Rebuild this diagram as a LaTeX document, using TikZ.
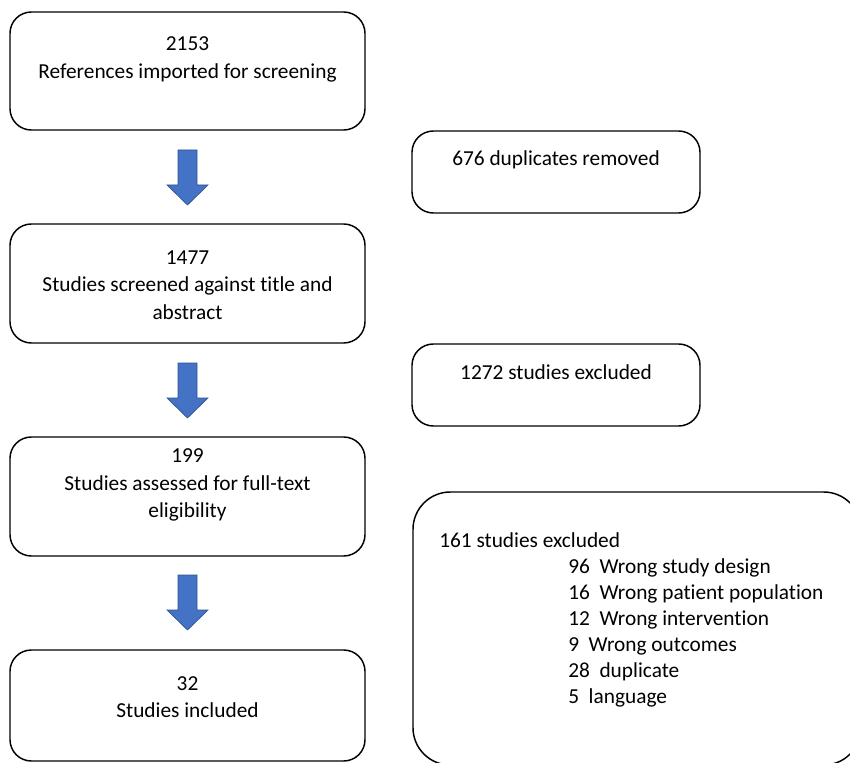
\documentclass[tikz,border=0pt]{standalone}
\usepackage{fontspec}
\setmainfont[Ligatures=NoCommon]{Carlito}
\usetikzlibrary{fit}
\definecolor{arrowblue}{HTML}{4472C4}
\definecolor{arrowedge}{HTML}{2F528F}
\tikzset{
  box/.style={draw=black, line width=1.1pt, rounded corners=16pt, inner sep=0pt},
  bigbox/.style={draw=black, line width=1.1pt, rounded corners=28pt, inner sep=0pt},
  label/.style={font=\fontsize{16pt}{20.5pt}\selectfont, align=center, inner sep=0pt},
  itemtext/.style={font=\fontsize{16pt}{19.6pt}\selectfont, align=left, inner sep=0pt, anchor=west},
  blockarrow/.style={fill=arrowblue, draw=arrowedge, line width=0.5pt}
}
\newcommand{\downarrowat}[2]{%
  \draw[blockarrow] (#1-9.5,#2) -- (#1+9.5,#2) -- (#1+9.5,#2+35) -- (#1+20.5,#2+35)
    -- (#1,#2+55) -- (#1-20.5,#2+35) -- (#1-9.5,#2+35) -- cycle;}
\begin{document}
\begin{tikzpicture}[x=0.75pt, y=-0.75pt]
\useasboundingbox (0,0) rectangle (850,763);
\clip (0,0) rectangle (850,763);
% left column boxes
\node[box, fit={(10,12) (365,130)}] (b1) {};
\node[box, fit={(10,224) (365,343)}] (b2) {};
\node[box, fit={(10,437) (365,556)}] (b3) {};
\node[box, fit={(10,650) (365,761)}] (b4) {};
% right column boxes
\node[box, fit={(412,131) (700,213)}] (r1) {};
\node[box, fit={(412,344) (700,426)}] (r2) {};
\node[bigbox, fit={(413,492) (861,765)}] (r3) {};
% texts
\node[label] (t1) at (187.5,59.5) {2153\\References imported for screening};
\node[label] (t2) at (187.5,285) {1477\\Studies screened against title and\\abstract};
\node[label] (t3) at (187.5,485) {199\\Studies assessed for full-text\\eligibility};
\node[label] (t4) at (187.5,697) {32\\Studies included};
\node[label] (u1) at (556,159.5) {676 duplicates removed};
\node[label] (u2) at (556,372.5) {1272 studies excluded};
\node[itemtext] (h3) at (439,540.5) {161 studies excluded};
\node[itemtext] (i3) at (568,633) {96\ \ Wrong study design\\16\ \ Wrong patient population\\12\ \ Wrong intervention\\9\ \ Wrong outcomes\\28\ \ duplicate\\5\ \ language};
% block arrows between boxes
\downarrowat{187.5}{150}
\downarrowat{187.5}{363}
\downarrowat{187.5}{575}
\end{tikzpicture}
\end{document}
